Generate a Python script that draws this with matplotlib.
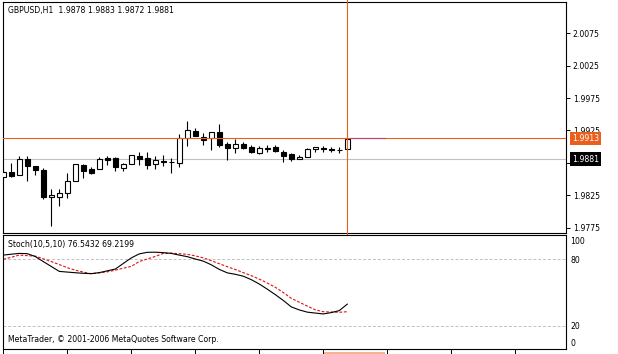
import matplotlib
matplotlib.use("Agg")
import matplotlib.pyplot as plt
import matplotlib.transforms as mtransforms
from matplotlib.patches import Rectangle

# ---------------- data ----------------
symbol_header = "GBPUSD,H1  1.9878 1.9883 1.9872 1.9881"
stoch_header = "Stoch(10,5,10) 76.5432 69.2199"
copyright_text = "MetaTrader, \u00a9 2001-2006 MetaQuotes Software Corp."

opens = [1.98535, 1.98616, 1.98570, 1.98807, 1.98704, 1.98642, 1.98222, 1.98232, 1.98284, 1.98473,
         1.98715, 1.98662, 1.98662, 1.98822, 1.98822, 1.98678, 1.98730, 1.98858, 1.98822, 1.98730,
         1.98781, 1.98773, 1.98755, 1.99130, 1.99242, 1.99155, 1.99130, 1.99232, 1.99038, 1.98985,
         1.99047, 1.98992, 1.98899, 1.98985, 1.98992, 1.98924, 1.98888, 1.98807, 1.98838, 1.98961,
         1.98976, 1.98965, 1.98955, 1.98961]
highs = [1.98673, 1.98750, 1.98858, 1.98858, 1.98704, 1.98668, 1.98345, 1.98345, 1.98601, 1.98730,
         1.98730, 1.98693, 1.98847, 1.98858, 1.98838, 1.98745, 1.98873, 1.98915, 1.98915, 1.98858,
         1.98873, 1.98832, 1.99192, 1.99396, 1.99293, 1.99207, 1.99227, 1.99350, 1.99068, 1.99115,
         1.99078, 1.99027, 1.99016, 1.99027, 1.99027, 1.98950, 1.98908, 1.98873, 1.98976, 1.98992,
         1.99012, 1.99001, 1.98992, 1.99115]
lows = [1.98488, 1.98535, 1.98565, 1.98473, 1.98570, 1.98192, 1.97781, 1.98089, 1.98216, 1.98473,
        1.98524, 1.98581, 1.98653, 1.98719, 1.98632, 1.98632, 1.98730, 1.98719, 1.98658, 1.98658,
        1.98708, 1.98601, 1.98693, 1.99012, 1.99170, 1.99027, 1.98950, 1.99001, 1.98796, 1.98908,
        1.98965, 1.98899, 1.98884, 1.98924, 1.98915, 1.98770, 1.98785, 1.98807, 1.98838, 1.98915,
        1.98924, 1.98924, 1.98908, 1.98961]
closes = [1.98612, 1.98550, 1.98807, 1.98704, 1.98642, 1.98232, 1.98258, 1.98284, 1.98473, 1.98730,
          1.98632, 1.98601, 1.98812, 1.98796, 1.98693, 1.98730, 1.98873, 1.98807, 1.98719, 1.98796,
          1.98761, 1.98765, 1.99130, 1.99258, 1.99170, 1.99104, 1.99227, 1.99027, 1.98976, 1.99038,
          1.98976, 1.98915, 1.98985, 1.98965, 1.98939, 1.98862, 1.98807, 1.98838, 1.98961, 1.98992,
          1.98961, 1.98956, 1.98945, 1.99115]

stoch_main = [83.5, 84.3, 85.0, 84.8, 82.2, 77.7, 73.3, 68.9, 68.3, 67.7,
              67.2, 66.9, 67.8, 69.4, 71.0, 76.0, 81.0, 84.6, 86.0, 86.1,
              85.7, 85.0, 83.5, 82.1, 80.0, 78.1, 74.8, 70.7, 67.6, 66.3,
              64.6, 61.5, 57.6, 53.0, 48.1, 42.9, 37.1, 34.4, 32.4, 31.6,
              30.8, 32.0, 33.8, 39.6]
stoch_signal = [79.7, 81.6, 83.5, 83.0, 82.6, 80.2, 77.7, 75.0, 72.2, 70.0,
                68.3, 66.8, 67.6, 68.5, 70.0, 71.8, 73.4, 77.8, 80.0, 82.3,
                85.0, 85.3, 84.7, 84.2, 82.8, 81.0, 78.5, 75.8, 73.1, 70.6,
                67.8, 65.1, 62.0, 58.5, 54.7, 50.0, 44.8, 41.3, 37.8, 34.5,
                32.8, 32.5, 32.3, 32.8]

price_ticks = [1.9775, 1.9825, 1.9875, 1.9925, 1.9975, 2.0025, 2.0075]
stoch_levels = [20, 80]
stoch_ticks = [0, 20, 80, 100]
crosshair_bar = 43
crosshair_price = 1.9913
bid_price = 1.9881
time_ticks = [0, 8, 16, 24, 32, 40, 48, 56, 64]

# ---------------- figure ----------------
W, H = 618, 354
fig = plt.figure(figsize=(W / 100, H / 100), dpi=100)
fig.patch.set_facecolor("white")
plt.rcParams["font.family"] = ["DejaVu Sans"]

def px_axes(l, t, r, b):
    return fig.add_axes([l / W, 1 - b / H, (r - l) / W, (b - t) / H])

ax = px_axes(2.5, 2, 566, 233)
ax2 = px_axes(2.5, 235, 566, 349)

ORANGE = "#E8601C"
FS = 5.6

for a in (ax, ax2):
    for s in a.spines.values():
        s.set_linewidth(0.8)
        s.set_color("black")
    a.set_facecolor("white")

# ---- main price panel ----
n = len(opens)
xs = list(range(n))
ax.set_xlim(-0.1, 70.34)
ax.set_ylim(1.97673, 2.01227)

ax.vlines(xs, lows, highs, color="black", linewidth=0.8, zorder=2)
bottoms = [min(o, c) for o, c in zip(opens, closes)]
heights = [abs(c - o) for o, c in zip(opens, closes)]
colors = ["white" if c >= o else "black" for o, c in zip(opens, closes)]
ax.bar(xs, heights, bottom=bottoms, width=0.6, color=colors, edgecolor="black",
       linewidth=0.8, zorder=3)

ax.axhline(bid_price, color="#C0C0C0", linewidth=0.8, zorder=1)
ax.axhline(crosshair_price, color=ORANGE, linewidth=0.8, zorder=4)
ax.plot([crosshair_bar + 0.3, crosshair_bar + 4.7], [crosshair_price, crosshair_price],
        color="#C04070", linewidth=0.8, zorder=5)

ax.set_xticks([])
ax.yaxis.tick_right()
ax.set_yticks(price_ticks)
ax.set_yticklabels([f"{p:.4f}" for p in price_ticks])
ax.tick_params(axis="y", length=3, width=0.7, pad=1.8, labelsize=FS, colors="black")

blend = mtransforms.blended_transform_factory(ax.transAxes, ax.transData)
ax.text(1.0105, crosshair_price, f"{crosshair_price:.4f}", transform=blend, fontsize=FS,
        color="white", va="center", ha="left", zorder=10,
        bbox=dict(boxstyle="square,pad=0.28", facecolor=ORANGE, edgecolor="none"))
ax.text(1.0105, bid_price, f"{bid_price:.4f}", transform=blend, fontsize=FS,
        color="white", va="center", ha="left", zorder=10,
        bbox=dict(boxstyle="square,pad=0.28", facecolor="black", edgecolor="none"))

ax.text(6 / 563.5 - 0.0005, 1 - 8 / 231, symbol_header, transform=ax.transAxes,
        fontsize=FS, va="center", ha="left", color="black")

# ---- stochastic panel ----
ax2.set_xlim(-0.1, 70.34)
ax2.set_ylim(-0.6, 101.5)
for lv in stoch_levels:
    ax2.axhline(lv, color="#C0C0C0", linewidth=0.7, linestyle=(0, (3, 2)), zorder=1)
ax2.plot(xs, stoch_main, color="black", linewidth=0.8, zorder=3)
ax2.plot(xs, stoch_signal, color="#E01010", linewidth=0.8, linestyle=(0, (2.5, 1.5)), zorder=2)

ax2.yaxis.tick_right()
ax2.set_yticks(stoch_ticks)
ax2.set_yticklabels([str(v) for v in stoch_ticks])
ax2.tick_params(axis="y", length=0, pad=3.2, labelsize=FS, colors="black")
for lab, v in zip(ax2.get_yticklabels(), stoch_ticks):
    if v == 100:
        lab.set_va("top")
    elif v == 0:
        lab.set_va("bottom")
ax2.set_xticks(time_ticks)
ax2.set_xticklabels([])
ax2.tick_params(axis="x", length=6, width=0.7, direction="out", colors="black")

ax2.text(5 / 563.5, 1 - 9.5 / 114, stoch_header, transform=ax2.transAxes,
         fontsize=FS, va="center", ha="left", color="black")
ax2.text(5 / 563.5, 1 - 104.5 / 114, copyright_text, transform=ax2.transAxes,
         fontsize=FS, va="center", ha="left", color="black")

# crosshair vertical line through both panels
vt = mtransforms.blended_transform_factory(ax.transData, fig.transFigure)
ax.plot([crosshair_bar, crosshair_bar], [5 / H, 1.0], color=ORANGE, linewidth=0.8,
        transform=vt, clip_on=False, zorder=6)
# clipped time label of crosshair at bottom
bt = mtransforms.blended_transform_factory(ax2.transData, fig.transFigure)
fig.patches.append(Rectangle((crosshair_bar - 2.9, 0), 7.6, 2.5 / H, transform=bt,
                             facecolor="#F6B58E", edgecolor="none"))

fig.savefig("out.png", dpi=100, facecolor="white")
